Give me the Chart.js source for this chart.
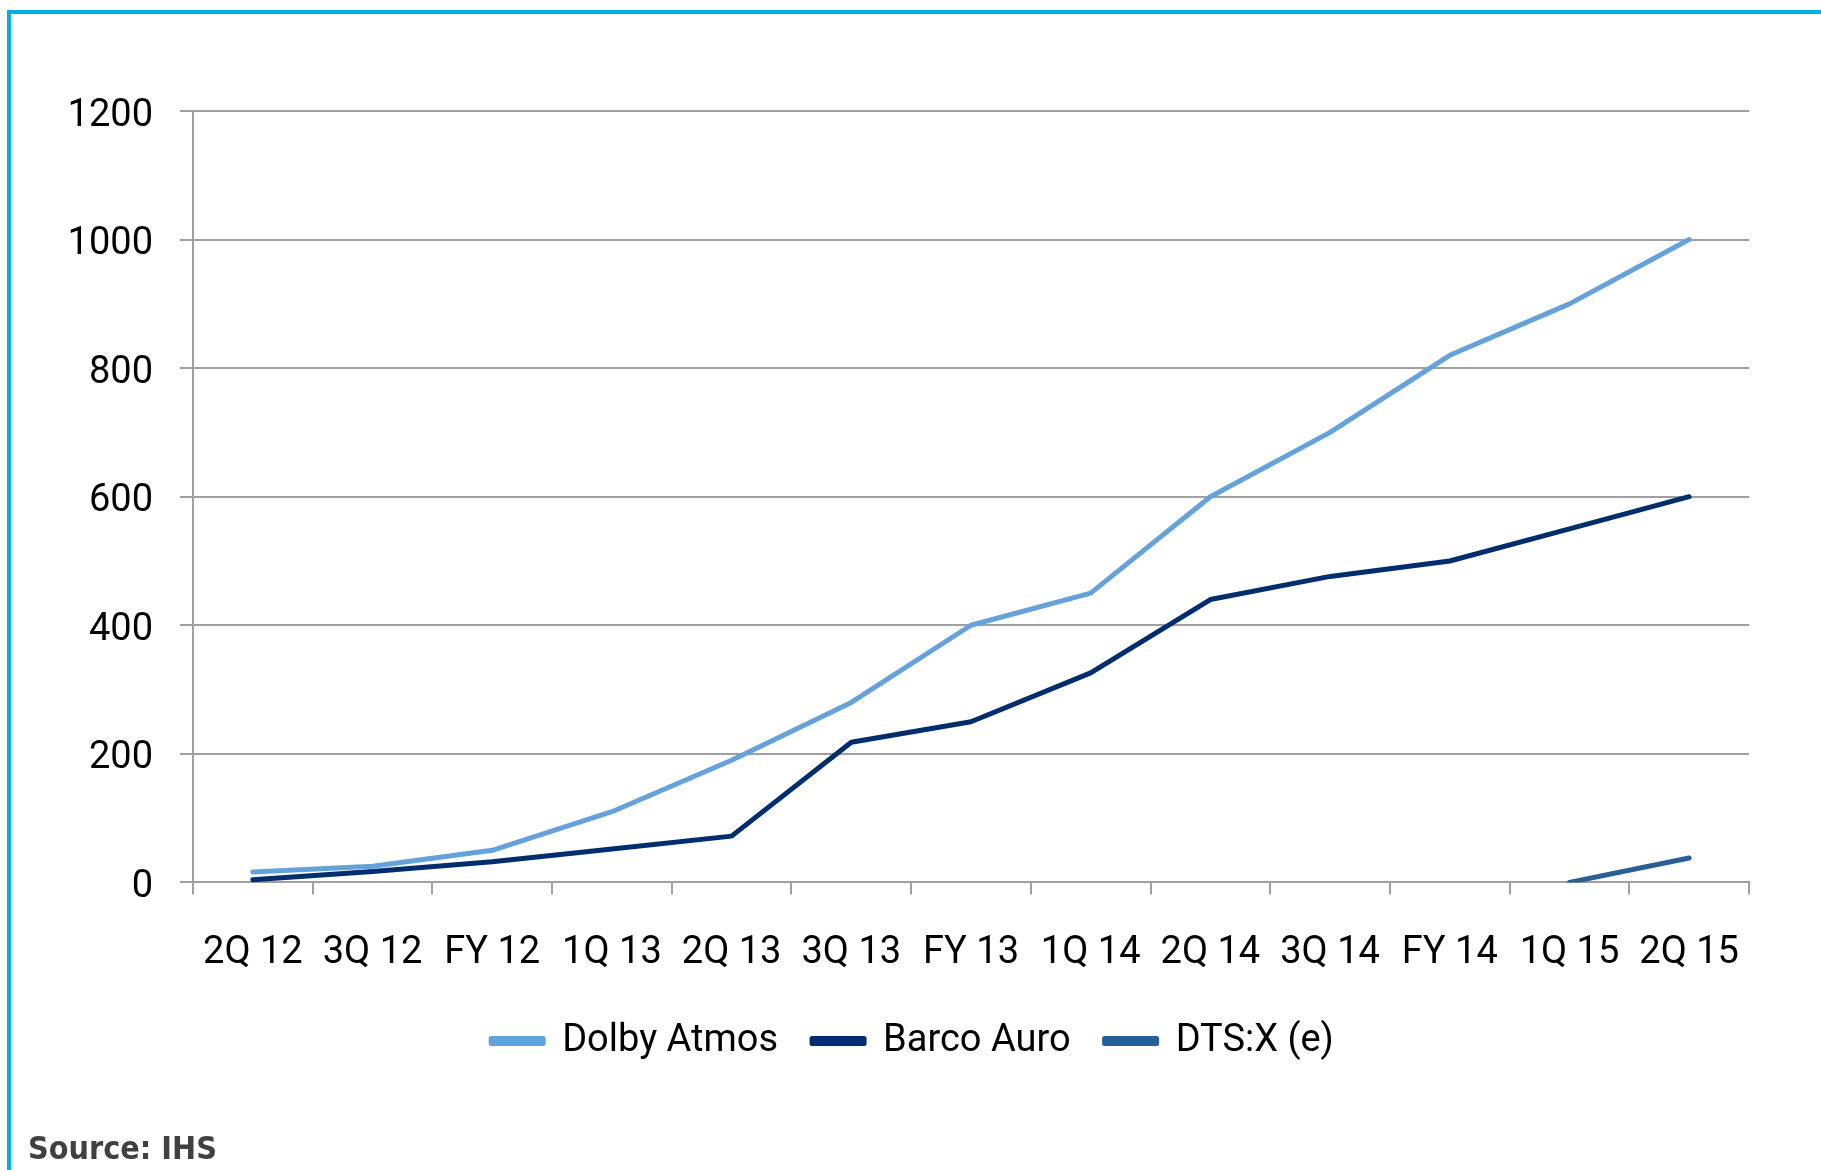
<!DOCTYPE html>
<html>
<head>
<meta charset="utf-8">
<script src="https://cdn.jsdelivr.net/npm/chart.js@4.4.1/dist/chart.umd.min.js"></script>
<style>
  html, body { margin: 0; padding: 0; background: #fff; }
  body { width: 1821px; height: 1170px; position: relative; overflow: hidden; }
  #frame {
    position: absolute; left: 7px; top: 10px; width: 1830px; height: 1200px;
    border-top: 4px solid #00B1E3; border-left: 4px solid #00B1E3;
  }
  #wrap { position: absolute; left: 0; top: 0; width: 1821px; height: 1170px; }
  #source {
    position: absolute; left: 28px; top: 1129px;
    font-family: "DejaVu Sans Condensed", "DejaVu Sans", sans-serif;
    font-weight: bold; font-size: 32px; color: #404040;
  }
</style>
</head>
<body>
<div id="frame"></div>
<div id="wrap"><canvas id="chartSonido"></canvas></div>
<div id="source">Source: IHS</div>
<script>
const periodos = ['2Q 12', '3Q 12', 'FY 12', '1Q 13', '2Q 13', '3Q 13', 'FY 13', '1Q 14', '2Q 14', '3Q 14', 'FY 14', '1Q 15', '2Q 15']
const dolbyAtmos = [16, 25, 50, 110, 190, 280, 400, 450, 600, 700, 820, 900, 1000]
const barcoAuro = [4, 17, 32, 52, 72, 218, 250, 326, 440, 476, 500, 550, 600]
const dtsX = [null, null, null, null, null, null, null, null, null, null, null, 0, 38]
const yTicks = [0, 200, 400, 600, 800, 1000, 1200]

const fuente = { family: 'Roboto', size: 38 }
const gris = '#A0A0A0'

// mueve la leyenda para que quede como en el original
const moverLeyenda = {
  id: 'moverLeyenda',
  afterLayout(chart) {
    const leg = chart.legend
    leg.left += 38
    leg.right += 38
    leg.top -= 24
    leg.bottom -= 24
  }
}

const ctx = document.getElementById('chartSonido').getContext('2d')
new Chart(ctx, {
  type: 'line',
  data: {
    labels: periodos,
    datasets: [
      { label: 'Dolby Atmos', data: dolbyAtmos, borderColor: '#65A2DC', backgroundColor: '#65A2DC' },
      { label: 'Barco Auro', data: barcoAuro, borderColor: '#002D6D', backgroundColor: '#002D6D' },
      { label: 'DTS:X (e)', data: dtsX, borderColor: '#2A5E96', backgroundColor: '#2A5E96' }
    ]
  },
  options: {
    responsive: true,
    maintainAspectRatio: false,
    animation: false,
    layout: { padding: { left: 0, right: 72, top: 111, bottom: 76 } },
    elements: {
      line: { borderWidth: 5, tension: 0, borderCapStyle: 'round', borderJoinStyle: 'round' },
      point: { radius: 0, hoverRadius: 0 }
    },
    scales: {
      x: {
        offset: true,
        grid: { offset: true, drawOnChartArea: false, drawTicks: true, tickLength: 12, color: gris, lineWidth: 2 },
        border: { color: gris, width: 2 },
        ticks: { color: '#000', font: fuente, padding: 36, maxRotation: 0, autoSkip: false }
      },
      y: {
        min: 0,
        max: 1200,
        afterFit: scale => { scale.width = 193 },
        afterBuildTicks: scale => { scale.ticks = yTicks.map(v => ({ value: v })) },
        grid: { color: gris, lineWidth: 2, tickLength: 13 },
        border: { color: gris, width: 2 },
        ticks: { color: '#000', font: fuente, padding: 27, labelOffset: 5, callback: v => String(v) }
      }
    },
    plugins: {
      legend: {
        position: 'bottom',
        labels: { color: '#000', font: fuente, boxWidth: 52, boxHeight: 5, padding: 34 }
      },
      tooltip: { enabled: false }
    }
  },
  plugins: [moverLeyenda]
})
</script>
</body>
</html>
